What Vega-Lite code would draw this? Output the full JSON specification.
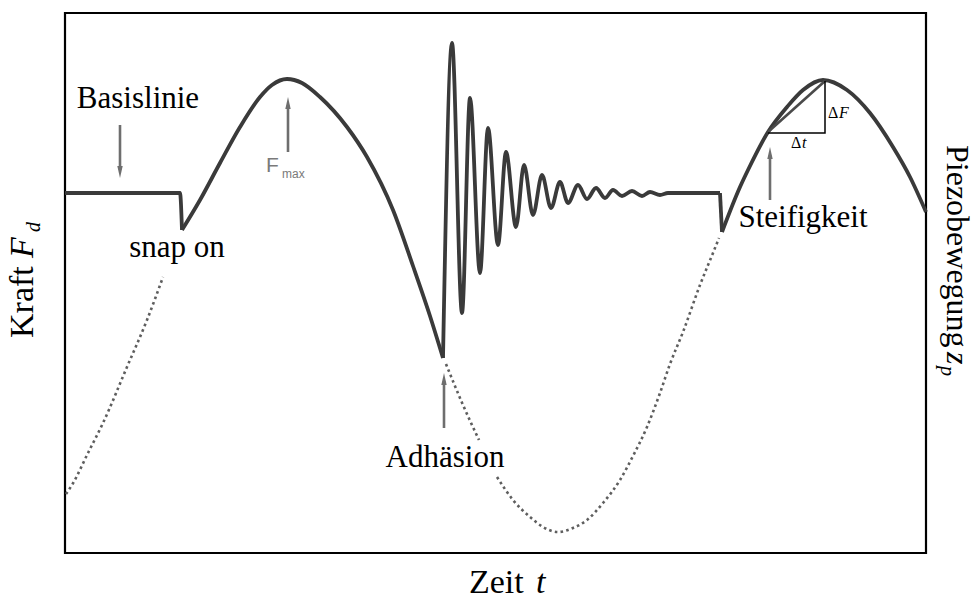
{
  "$schema": "https://vega.github.io/schema/vega-lite/v6.json",
  "width": 861,
  "height": 540,
  "autosize": {"type": "none"},
  "padding": {"left": 65, "top": 13, "right": 49, "bottom": 47},
  "config": {"view": {"stroke": "black", "strokeWidth": 2.2}},
  "datasets": {
    "solid": [
      {"seg": "a", "t": 65, "f": 360}, {"seg": "a", "t": 180, "f": 360}, {"seg": "a", "t": 182, "f": 323},
      {"seg": "b", "t": 182, "f": 323}, {"seg": "b", "t": 200, "f": 353},
      {"seg": "b", "t": 220, "f": 390}, {"seg": "b", "t": 240, "f": 426}, {"seg": "b", "t": 260, "f": 456}, {"seg": "b", "t": 272, "f": 468},
      {"seg": "b", "t": 287, "f": 474}, {"seg": "b", "t": 302, "f": 470}, {"seg": "b", "t": 320, "f": 456}, {"seg": "b", "t": 347, "f": 426},
      {"seg": "b", "t": 367, "f": 396}, {"seg": "b", "t": 393, "f": 343}, {"seg": "b", "t": 413, "f": 287}, {"seg": "b", "t": 430, "f": 237},
      {"seg": "b", "t": 443, "f": 195},
      {"seg": "c", "t": 443, "f": 195}, {"seg": "c", "t": 452, "f": 510}, {"seg": "c", "t": 462, "f": 240}, {"seg": "c", "t": 470, "f": 455},
      {"seg": "c", "t": 480, "f": 280}, {"seg": "c", "t": 488, "f": 425}, {"seg": "c", "t": 498, "f": 308}, {"seg": "c", "t": 506, "f": 401},
      {"seg": "c", "t": 516, "f": 326}, {"seg": "c", "t": 524, "f": 388}, {"seg": "c", "t": 533, "f": 338}, {"seg": "c", "t": 542, "f": 378},
      {"seg": "c", "t": 551, "f": 345}, {"seg": "c", "t": 560, "f": 371}, {"seg": "c", "t": 568, "f": 350}, {"seg": "c", "t": 578, "f": 368},
      {"seg": "c", "t": 587, "f": 354}, {"seg": "c", "t": 596, "f": 365}, {"seg": "c", "t": 605, "f": 355}, {"seg": "c", "t": 613, "f": 363},
      {"seg": "c", "t": 622, "f": 357}, {"seg": "c", "t": 632, "f": 362}, {"seg": "c", "t": 642, "f": 357}, {"seg": "c", "t": 650, "f": 361},
      {"seg": "c", "t": 660, "f": 358}, {"seg": "c", "t": 668, "f": 360}, {"seg": "c", "t": 720, "f": 360},
      {"seg": "d", "t": 720, "f": 360}, {"seg": "d", "t": 722, "f": 321},
      {"seg": "e", "t": 722, "f": 321},
      {"seg": "e", "t": 740, "f": 366}, {"seg": "e", "t": 748, "f": 383}, {"seg": "e", "t": 768, "f": 421}, {"seg": "e", "t": 787, "f": 446},
      {"seg": "e", "t": 803, "f": 463}, {"seg": "e", "t": 823, "f": 473}, {"seg": "e", "t": 847, "f": 463}, {"seg": "e", "t": 870, "f": 440},
      {"seg": "e", "t": 893, "f": 406}, {"seg": "e", "t": 910, "f": 376}, {"seg": "e", "t": 926, "f": 341}
    ],
    "dots": [
      {"seg": "a", "t": 66, "f": 59}, {"seg": "a", "t": 72, "f": 68}, {"seg": "a", "t": 88, "f": 100},
      {"seg": "a", "t": 103, "f": 130}, {"seg": "a", "t": 127, "f": 186}, {"seg": "a", "t": 147, "f": 233},
      {"seg": "a", "t": 163, "f": 276},
      {"seg": "b", "t": 446, "f": 189}, {"seg": "b", "t": 463, "f": 148}, {"seg": "b", "t": 479, "f": 113},
      {"seg": "c", "t": 497, "f": 76}, {"seg": "c", "t": 513, "f": 53}, {"seg": "c", "t": 530, "f": 36},
      {"seg": "c", "t": 543, "f": 26}, {"seg": "c", "t": 558, "f": 21}, {"seg": "c", "t": 573, "f": 25},
      {"seg": "c", "t": 587, "f": 33}, {"seg": "c", "t": 603, "f": 50}, {"seg": "c", "t": 620, "f": 73},
      {"seg": "c", "t": 633, "f": 97}, {"seg": "c", "t": 647, "f": 126}, {"seg": "c", "t": 660, "f": 160},
      {"seg": "c", "t": 670, "f": 189}, {"seg": "c", "t": 683, "f": 221}, {"seg": "c", "t": 700, "f": 268},
      {"seg": "c", "t": 713, "f": 300}, {"seg": "c", "t": 719, "f": 315}
    ],
    "hyp": [{"t": 768, "f": 421}, {"t": 825, "f": 472}],
    "legs": [{"i": 0, "t": 768, "f": 420}, {"i": 1, "t": 825, "f": 420}, {"i": 2, "t": 825, "f": 472}],
    "arrows": [
      {"name": "Basislinie", "dir": "down", "t": 120, "f": 428, "f2": 383, "head": 381},
      {"name": "Fmax", "dir": "up", "t": 288, "f": 401, "f2": 448, "head": 450},
      {"name": "Adhäsion", "dir": "up", "t": 444, "f": 125, "f2": 172, "head": 174},
      {"name": "Steifigkeit", "dir": "up", "t": 770, "f": 353, "f2": 398, "head": 400}
    ],
    "labels": [
      {"kind": "big", "t": 138, "f": 445, "text": "Basislinie"},
      {"kind": "big", "t": 177, "f": 296, "text": "snap on"},
      {"kind": "big", "t": 445, "f": 86, "text": "Adhäsion"},
      {"kind": "big", "t": 803, "f": 326, "text": "Steifigkeit"},
      {"kind": "fmax", "t": 266, "f": 381, "text": "F"},
      {"kind": "fsub", "t": 282, "f": 375, "text": "max"},
      {"kind": "small", "t": 828, "f": 435, "text": "Δ"},
      {"kind": "smallit", "t": 839, "f": 435, "text": "F"},
      {"kind": "small", "t": 791, "f": 405, "text": "Δ"},
      {"kind": "smallit", "t": 802, "f": 405, "text": "t"},
      {"kind": "xt", "t": 469, "f": -40, "text": "Zeit"},
      {"kind": "xti", "t": 536, "f": -40, "text": "t"},
      {"kind": "yl", "t": 33, "f": 215, "text": "Kraft"},
      {"kind": "yli", "t": 33, "f": 295, "text": "F"},
      {"kind": "ylsub", "t": 40, "f": 321, "text": "d"},
      {"kind": "yr", "t": 947, "f": 408, "text": "Piezobewegung"},
      {"kind": "yri", "t": 947, "f": 201, "text": "z"},
      {"kind": "yrsub", "t": 941, "f": 187, "text": "p"}
    ]
  },
  "encoding": {
    "x": {"field": "t", "type": "quantitative", "scale": {"domain": [65, 926], "nice": false, "zero": false}, "axis": null},
    "y": {"field": "f", "type": "quantitative", "scale": {"domain": [0, 540], "nice": false, "zero": false}, "axis": null}
  },
  "layer": [
    {
      "data": {"name": "dots"},
      "mark": {"type": "line", "interpolate": "monotone", "color": "#5e5e5e", "strokeWidth": 2.6, "strokeDash": [2.6, 3.2]},
      "encoding": {"detail": {"field": "seg", "type": "nominal"}}
    },
    {
      "data": {"name": "solid"},
      "mark": {"type": "line", "interpolate": "monotone", "color": "#3a3a3a", "strokeWidth": 3.8, "strokeJoin": "round"},
      "encoding": {"detail": {"field": "seg", "type": "nominal"}}
    },
    {
      "data": {"name": "hyp"},
      "mark": {"type": "line", "color": "#4a4a4a", "strokeWidth": 2.6},
      "encoding": {}
    },
    {
      "data": {"name": "legs"},
      "mark": {"type": "line", "color": "black", "strokeWidth": 1.5},
      "encoding": {"order": {"field": "i", "type": "quantitative"}}
    },
    {
      "data": {"name": "arrows"},
      "mark": {"type": "rule", "color": "#6e6e6e", "strokeWidth": 2.6},
      "encoding": {"y2": {"field": "f2"}}
    },
    {
      "data": {"name": "arrows"},
      "transform": [{"filter": "datum.dir === 'up'"}],
      "mark": {"type": "point", "shape": "M0,-1L0.45,1L-0.45,1Z", "filled": true, "color": "#6e6e6e", "size": 144, "opacity": 1},
      "encoding": {"y": {"field": "head", "type": "quantitative"}}
    },
    {
      "data": {"name": "arrows"},
      "transform": [{"filter": "datum.dir === 'down'"}],
      "mark": {"type": "point", "shape": "M0,1L0.45,-1L-0.45,-1Z", "filled": true, "color": "#6e6e6e", "size": 144, "opacity": 1},
      "encoding": {"y": {"field": "head", "type": "quantitative"}}
    },
    {
      "data": {"name": "labels"},
      "transform": [{"filter": "datum.kind === 'big'"}],
      "mark": {"type": "text", "font": "Liberation Serif", "fontSize": 31, "align": "center", "baseline": "alphabetic", "color": "black"},
      "encoding": {"text": {"field": "text"}}
    },
    {
      "data": {"name": "labels"},
      "transform": [{"filter": "datum.kind === 'fmax'"}],
      "mark": {"type": "text", "font": "Liberation Sans", "fontSize": 21, "align": "left", "baseline": "alphabetic", "color": "#7a7a7a"},
      "encoding": {"text": {"field": "text"}}
    },
    {
      "data": {"name": "labels"},
      "transform": [{"filter": "datum.kind === 'fsub'"}],
      "mark": {"type": "text", "font": "Liberation Sans", "fontSize": 12, "align": "left", "baseline": "alphabetic", "color": "#7a7a7a"},
      "encoding": {"text": {"field": "text"}}
    },
    {
      "data": {"name": "labels"},
      "transform": [{"filter": "datum.kind === 'small'"}],
      "mark": {"type": "text", "font": "Liberation Serif", "fontSize": 16, "align": "left", "baseline": "alphabetic", "color": "black"},
      "encoding": {"text": {"field": "text"}}
    },
    {
      "data": {"name": "labels"},
      "transform": [{"filter": "datum.kind === 'smallit'"}],
      "mark": {"type": "text", "font": "Liberation Serif", "fontStyle": "italic", "fontSize": 16, "align": "left", "baseline": "alphabetic", "color": "black"},
      "encoding": {"text": {"field": "text"}}
    },
    {
      "data": {"name": "labels"},
      "transform": [{"filter": "datum.kind === 'xt'"}],
      "mark": {"type": "text", "font": "Liberation Serif", "fontSize": 34, "align": "left", "baseline": "alphabetic", "color": "black"},
      "encoding": {"text": {"field": "text"}}
    },
    {
      "data": {"name": "labels"},
      "transform": [{"filter": "datum.kind === 'xti'"}],
      "mark": {"type": "text", "font": "Liberation Serif", "fontStyle": "italic", "fontSize": 34, "align": "left", "baseline": "alphabetic", "color": "black"},
      "encoding": {"text": {"field": "text"}}
    },
    {
      "data": {"name": "labels"},
      "transform": [{"filter": "datum.kind === 'yl'"}],
      "mark": {"type": "text", "font": "Liberation Serif", "fontSize": 34, "align": "left", "baseline": "alphabetic", "angle": 270, "color": "black"},
      "encoding": {"text": {"field": "text"}}
    },
    {
      "data": {"name": "labels"},
      "transform": [{"filter": "datum.kind === 'yli'"}],
      "mark": {"type": "text", "font": "Liberation Serif", "fontStyle": "italic", "fontSize": 34, "align": "left", "baseline": "alphabetic", "angle": 270, "color": "black"},
      "encoding": {"text": {"field": "text"}}
    },
    {
      "data": {"name": "labels"},
      "transform": [{"filter": "datum.kind === 'ylsub'"}],
      "mark": {"type": "text", "font": "Liberation Serif", "fontStyle": "italic", "fontSize": 20, "align": "left", "baseline": "alphabetic", "angle": 270, "color": "black"},
      "encoding": {"text": {"field": "text"}}
    },
    {
      "data": {"name": "labels"},
      "transform": [{"filter": "datum.kind === 'yr'"}],
      "mark": {"type": "text", "font": "Liberation Serif", "fontSize": 32, "align": "left", "baseline": "alphabetic", "angle": 90, "color": "black"},
      "encoding": {"text": {"field": "text"}}
    },
    {
      "data": {"name": "labels"},
      "transform": [{"filter": "datum.kind === 'yri'"}],
      "mark": {"type": "text", "font": "Liberation Serif", "fontStyle": "italic", "fontSize": 32, "align": "left", "baseline": "alphabetic", "angle": 90, "color": "black"},
      "encoding": {"text": {"field": "text"}}
    },
    {
      "data": {"name": "labels"},
      "transform": [{"filter": "datum.kind === 'yrsub'"}],
      "mark": {"type": "text", "font": "Liberation Serif", "fontStyle": "italic", "fontSize": 20, "align": "left", "baseline": "alphabetic", "angle": 90, "color": "black"},
      "encoding": {"text": {"field": "text"}}
    }
  ]
}
